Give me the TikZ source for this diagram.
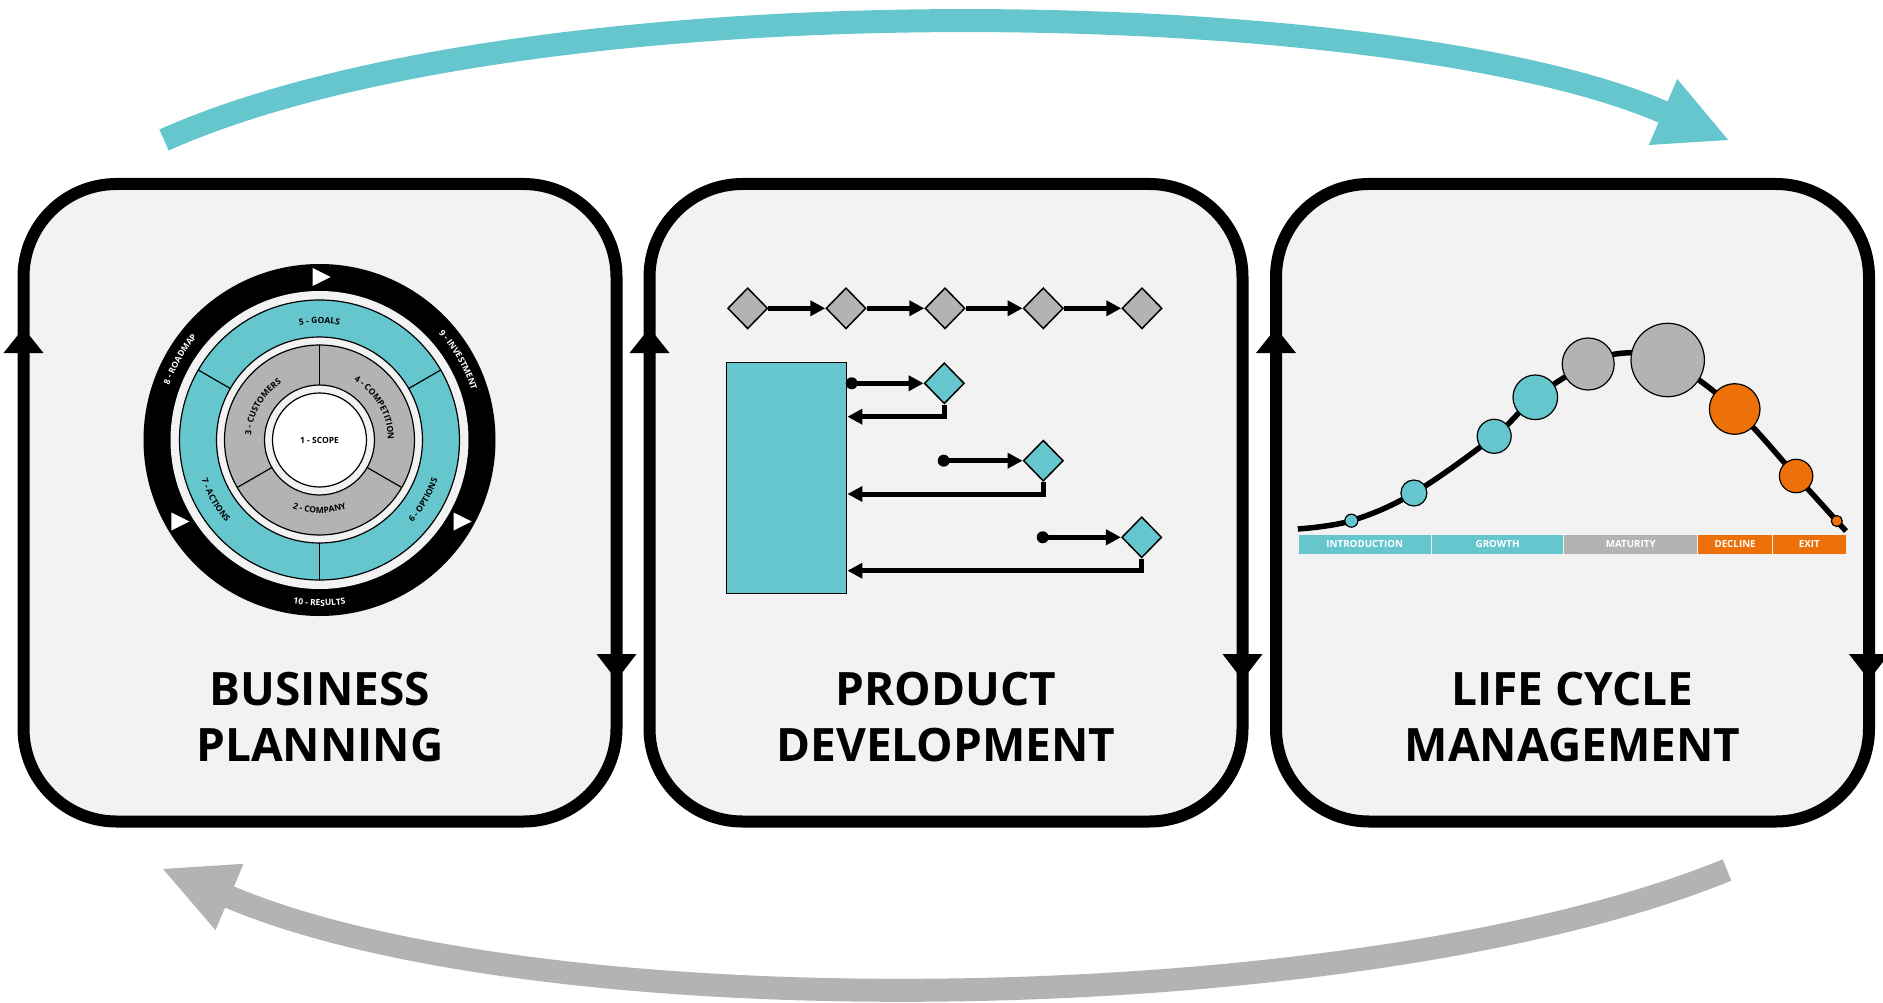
\documentclass[tikz,border=0pt]{standalone}
\usepackage{fontspec}
\setmainfont{Open Sans}
\usetikzlibrary{decorations.text,shapes.geometric,arrows.meta}
\definecolor{pteal}{HTML}{66C6CE}
\definecolor{pgray}{HTML}{B3B3B3}
\definecolor{porange}{HTML}{EE7008}
\definecolor{pbg}{HTML}{F2F2F2}
\newcommand\ringfont{\fontsize{8.5pt}{9pt}\selectfont\bfseries}
\newcommand\boxfont{\fontsize{46pt}{56pt}\selectfont\bfseries}
\newcommand\stagefont{\fontsize{9.8pt}{10pt}\selectfont\bfseries}
\tikzset{
  panel/.style={draw, line width=12pt, fill=pbg, rounded corners=93pt,
    minimum width=593pt, minimum height=637.5pt, inner sep=0pt},
  boxlabel/.style={font=\boxfont, anchor=base, inner sep=0pt},
  ringline/.style={line width=1.2pt},
  gdia/.style={diamond, draw, line width=1.5pt, fill=pgray,
    minimum width=40pt, minimum height=41pt, inner sep=0pt},
  tdia/.style={gdia, fill=pteal},
  conn/.style={line width=5pt, -{Triangle[length=15pt,width=15pt]}},
  dot/.style={circle, fill=black, minimum size=12pt, inner sep=0pt},
  stage/.style={minimum height=18.3pt, inner sep=0pt, text=white,
    font=\stagefont, anchor=north west},
  bubble/.style={circle, draw, line width=1.2pt, inner sep=0pt},
  ringtext/.style n args={2}{decorate, decoration={text along path,
    text align=center, text color=#1, text={|\ringfont|#2}}},
  bigarrow/.style={line width=23pt}
}
\begin{document}
\begin{tikzpicture}[x=1pt,y=-1pt]
\useasboundingbox (0,0) rectangle (1883,1003);

% big curved arrows
\coordinate (ts) at (164,140);
\coordinate (te) at (1663,112);
\coordinate (tt) at (1728.2,140);
\draw[bigarrow, pteal] (ts) .. controls (529.4,-22.7) and (1388.4,-6.3) .. (te) -- (1666,113.3);
\fill[pteal] (tt) -- (1677.2,79) -- (1648.8,145) -- cycle;

\coordinate (bs) at (1727,870);
\coordinate (be) at (229.5,897);
\coordinate (bt) at (163.1,869);
\draw[bigarrow, pgray] (bs) .. controls (1361.2,1019.3) and (547.6,1031.2) .. (be) -- (226.7,895.8);
\fill[pgray] (bt) -- (243.5,863.8) -- (215.5,930.2) -- cycle;

% panels
\node[panel] (bp) at (320,502.75) {};
\node[panel] (pd) at (946,502.75) {};
\node[panel] (lc) at (1572.5,502.75) {};
\foreach \cx in {320,946,1572.5}{
  \fill ({\cx-316.5},353) -- ({\cx-296.5},328) -- ({\cx-276.5},353) -- cycle;
  \fill ({\cx+276.5},654) -- ({\cx+296.5},680) -- ({\cx+316.5},654) -- cycle;
}
\node[boxlabel] (bpa) at (320,705) {BUSINESS};
\node[boxlabel] (bpb) at (320,761) {PLANNING};
\node[boxlabel] (pda) at (946,705) {PRODUCT};
\node[boxlabel] (pdb) at (946,761) {DEVELOPMENT};
\node[boxlabel] (lca) at (1572.5,705) {LIFE CYCLE};
\node[boxlabel] (lcb) at (1572.5,761) {MANAGEMENT};

% ring diagram
\begin{scope}[xshift=319.5pt, yshift=-440pt, y=1pt]
  \fill[black] (0,0) circle (176pt);
  \fill[pbg] (0,0) circle (149pt);
  \draw[ringline, fill=pteal] (0,0) circle (140pt);
  \draw[ringline, fill=pbg] (0,0) circle (103pt);
  \foreach \a in {30,150,270} \draw[ringline] (\a:103) -- (\a:140);
  \draw[ringline, fill=pgray] (0,0) circle (95pt);
  \foreach \a in {90,210,330} \draw[ringline] (\a:55) -- (\a:95);
  \draw[ringline, fill=pbg] (0,0) circle (55pt);
  \draw[ringline, fill=white] (0,0) circle (47pt);
  \node[font=\ringfont] (scope) at (0,0) {1 - SCOPE};
  \foreach \a in {90,210,330}
    \fill[white, shift={(\a:163)}] (-7,9) -- (11,0) -- (-7,-9) -- cycle;
  \path[ringtext={black}{5 - GOALS}] (150:116.5) arc[start angle=150,end angle=30,radius=116.5];
  \path[ringtext={black}{6 - OPTIONS}] (280:124.5) arc[start angle=280,end angle=380,radius=124.5];
  \path[ringtext={black}{7 - ACTIONS}] (160:124.5) arc[start angle=160,end angle=260,radius=124.5];
  \path[ringtext={black}{4 - COMPETITION}] (80:68.5) arc[start angle=80,end angle=-20,radius=68.5];
  \path[ringtext={black}{3 - CUSTOMERS}] (200:68.5) arc[start angle=200,end angle=100,radius=68.5];
  \path[ringtext={black}{2 - COMPANY}] (220:73.5) arc[start angle=220,end angle=320,radius=73.5];
  \path[ringtext={white}{8 - ROADMAP}] (200:160) arc[start angle=200,end angle=100,radius=160];
  \path[ringtext={white}{9 - INVESTMENT}] (80:160) arc[start angle=80,end angle=-20,radius=160];
  \path[ringtext={white}{10 - RESULTS}] (230:166) arc[start angle=230,end angle=310,radius=166];
\end{scope}

% product development
\node[gdia] (g1) at (747.7,308.3) {};
\node[gdia] (g2) at (846,308.3) {};
\node[gdia] (g3) at (945,308.3) {};
\node[gdia] (g4) at (1043.3,308.3) {};
\node[gdia] (g5) at (1142,308.3) {};
\draw[conn] (g1.east) -- (g2.west);
\draw[conn] (g2.east) -- (g3.west);
\draw[conn] (g3.east) -- (g4.west);
\draw[conn] (g4.east) -- (g5.west);
\node[draw, line width=1.5pt, fill=pteal, minimum width=120pt, minimum height=230.6pt, inner sep=0pt] (rect) at (786.7,478) {};
\node[tdia] (t1) at (944.3,383.3) {};
\node[tdia] (t2) at (1043.3,460.7) {};
\node[tdia] (t3) at (1141.7,537.3) {};
\node[dot] (d1) at (851.7,383.3) {};
\node[dot] (d2) at (943.7,460.7) {};
\node[dot] (d3) at (1042.7,537.3) {};
\draw[conn] (d1.center) -- (t1.west);
\draw[conn] (d2.center) -- (t2.west);
\draw[conn] (d3.center) -- (t3.west);
\draw[conn] (t1.south) |- (rect.east |- 0,416.7);
\draw[conn] (t2.south) |- (rect.east |- 0,494);
\draw[conn] (t3.south) |- (rect.east |- 0,570.7);

% life cycle
\draw[line width=5.5pt] plot[smooth, tension=0.6] coordinates {(1297.8,529) (1351.4,520.7) (1413.9,493) (1494.2,436.3) (1535.3,397.3) (1588.2,364) (1625,353) (1667.7,360) (1734.7,409) (1796.1,476) (1836.8,521) (1846,531)};
\node[bubble, fill=pteal, minimum size=13pt] (c1) at (1351.4,520.7) {};
\node[bubble, fill=pteal, minimum size=26pt] (c2) at (1413.9,493) {};
\node[bubble, fill=pteal, minimum size=34pt] (c3) at (1494.2,436.3) {};
\node[bubble, fill=pteal, minimum size=44.6pt] (c4) at (1535.3,397.3) {};
\node[bubble, fill=pgray, minimum size=52pt] (c5) at (1588.2,364) {};
\node[bubble, fill=pgray, minimum size=73.4pt] (c6) at (1667.7,360) {};
\node[bubble, fill=porange, minimum size=50.6pt] (c7) at (1734.7,409) {};
\node[bubble, fill=porange, minimum size=33.4pt] (c8) at (1796.1,476) {};
\node[bubble, fill=porange, minimum size=11pt] (c9) at (1836.8,521) {};
\node[stage, fill=pteal, minimum width=132.5pt] (s1) at (1298.3,535) {INTRODUCTION};
\node[stage, fill=pteal, minimum width=131.2pt] (s2) at (1431.8,535) {GROWTH};
\node[stage, fill=pgray, minimum width=133pt] (s3) at (1564,535) {MATURITY};
\node[stage, fill=porange, minimum width=73.8pt] (s4) at (1698,535) {DECLINE};
\node[stage, fill=porange, minimum width=72.7pt] (s5) at (1772.8,535) {EXIT};
\end{tikzpicture}
\end{document}
